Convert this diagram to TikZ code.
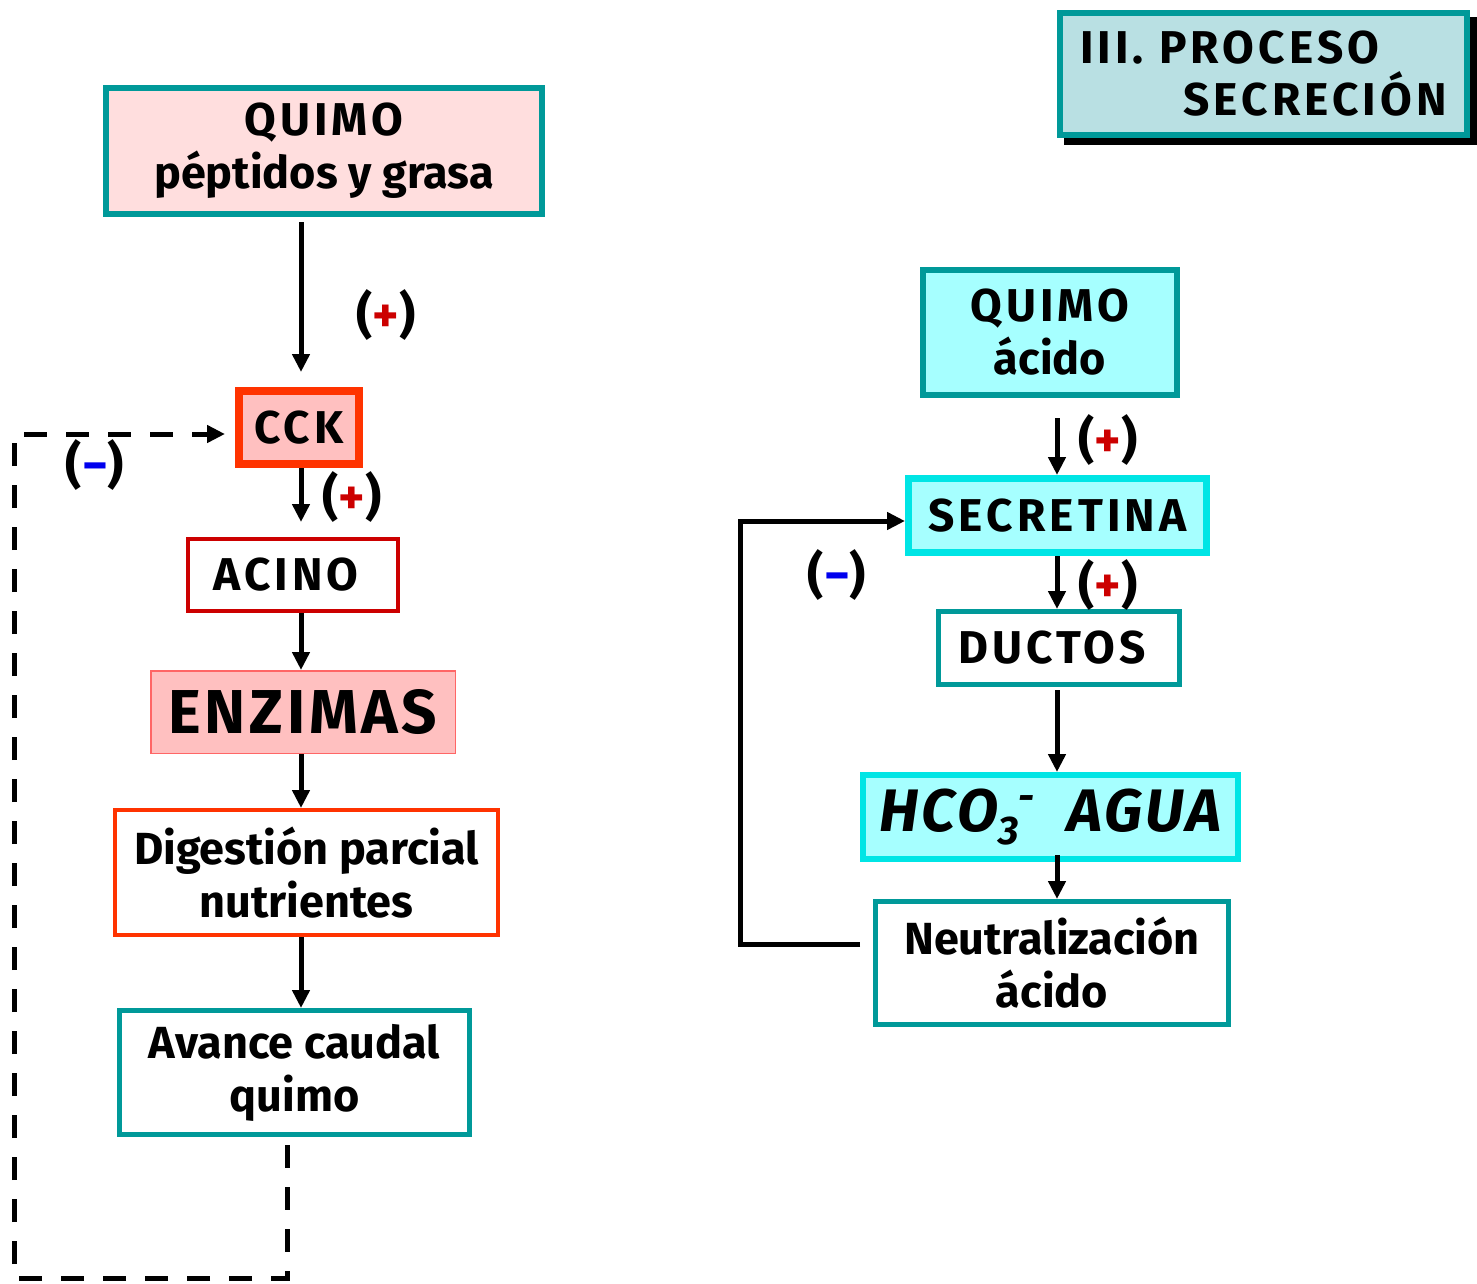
\documentclass[tikz,border=0pt]{standalone}
\usepackage{fontspec}
\setmainfont{Fira Sans}
\usetikzlibrary{arrows.meta}
\definecolor{teal}{HTML}{009999}
\definecolor{pinkA}{HTML}{FFDEDE}
\definecolor{pinkB}{HTML}{FFC0C0}
\definecolor{salmon}{HTML}{FF6666}
\definecolor{flame}{HTML}{FF3300}
\definecolor{crimson}{HTML}{CC0000}
\definecolor{aqua}{HTML}{A6FFFF}
\definecolor{cyanedge}{HTML}{00E5E5}
\definecolor{titlefill}{HTML}{B9E0E3}
\definecolor{plusred}{HTML}{CC0000}
\definecolor{minusblue}{HTML}{0000EE}
\newcommand{\plusmark}{(\textcolor{plusred}{+})}
\newcommand{\minusmark}{(\textcolor{minusblue}{−})}
\newcommand{\caps}{\addfontfeature{LetterSpace=9}}
\tikzset{
  box/.style={rectangle, inner sep=0pt, align=center, font=\fontsize{45}{53}\selectfont\bfseries},
  capsbox/.style={box, font=\fontsize{46}{53}\selectfont\bfseries\caps},
  arr/.style={line width=5pt, -{Triangle[width=17pt,length=18pt]}},
  dasharr/.style={line width=5pt, dash pattern=on 23pt off 19pt, -{Triangle[width=17pt,length=18pt]}},
  sign/.style={inner sep=0pt, font=\fontsize{50}{56}\selectfont\bfseries}
}
\begin{document}
\begin{tikzpicture}[x=1pt,y=-1pt]
\useasboundingbox (0,0) rectangle (1477,1283);

% title box with drop shadow
\fill[black] (1064,17) rectangle (1477,145);
\node[box, draw=teal, fill=titlefill, line width=6pt, minimum width=407pt, minimum height=122pt,
      text width=367pt, align=left, font=\fontsize{46}{52}\selectfont\bfseries\caps] (title) at (1263.5,74)
  {III. PROCESO\\\hspace*{\fill}SECRECIÓN};

% left chain: CCK
\node[box, draw=teal, fill=pinkA, line width=6pt, minimum width=436pt, minimum height=126pt] (quimoA) at (324,151) {{\fontsize{46}{53}\selectfont\caps QUIMO}\\péptidos y grasa};
\node[capsbox, draw=flame, fill=pinkB, line width=8pt, minimum width=120pt, minimum height=73pt] (cck) at (299,427.5) {CCK};
\node[capsbox, draw=crimson, fill=white, line width=4pt, minimum width=210pt, minimum height=72pt] (acino) at (293,575) {ACINO\hspace*{14pt}};
\node[box, draw=salmon, fill=pinkB, line width=1.5pt, minimum width=304.5pt, minimum height=82.5pt,
      font=\fontsize{62}{70}\selectfont\bfseries\addfontfeature{LetterSpace=6}] (enzimas) at (303,712) {ENZIMAS};
\node[box, draw=flame, fill=white, line width=4pt, minimum width=383pt, minimum height=125pt] (digest) at (306.5,872.5) {Digestión parcial\\nutrientes};
\node[box, draw=teal, fill=white, line width=5pt, minimum width=350pt, minimum height=124pt] (avance) at (294.5,1072.5) {Avance caudal\\quimo};

\coordinate (lx) at (301,0);
\draw[arr] ([yshift=-5pt]quimoA.south -| lx) -- ([yshift=15pt]cck.north -| lx);
\draw[arr] (cck.south -| lx) -- ([yshift=15pt]acino.north -| lx);
\draw[arr] (acino.south -| lx) -- (enzimas.north -| lx);
\draw[arr] (enzimas.south -| lx) -- (digest.north -| lx);
\draw[arr] (digest.south -| lx) -- (avance.north -| lx);

\node[sign] (s1) at (386,315) {\plusmark};
\node[sign] (s2) at (352,497) {\plusmark};
\node[sign] (s3) at (95,465) {\minusmark};

% inhibitory feedback loop
\coordinate (fbA) at (287,1145);
\coordinate (fbB) at (14,1278);
\coordinate (fbT) at (225,434);
\draw[dasharr] (fbA) -- (fbA |- fbB) -- (fbB) -- (fbB |- fbT) -- (fbT);

% right chain: secretin
\node[box, draw=teal, fill=aqua, line width=6pt, minimum width=254pt, minimum height=125pt] (quimoB) at (1050,332.5) {{\fontsize{46}{53}\selectfont\caps QUIMO}\\ácido};
\node[capsbox, draw=cyanedge, fill=aqua, line width=7pt, minimum width=298pt, minimum height=74pt] (secretina) at (1057.5,515.5) {SECRETINA};
\node[capsbox, draw=teal, fill=white, line width=5pt, minimum width=241pt, minimum height=73pt] (ductos) at (1059,648) {DUCTOS\hspace*{14pt}};
\node[box, draw=cyanedge, fill=aqua, line width=6pt, minimum width=375pt, minimum height=84pt,
      font=\fontsize{60}{70}\selectfont\bfseries\itshape\addfontfeature{LetterSpace=5}] (hco) at (1050.5,817)
  {HCO\raisebox{-0.22em}{\fontsize{40}{40}\selectfont 3}\raisebox{0.35em}{\fontsize{40}{40}\selectfont -}\ \ AGUA};
\node[box, draw=teal, fill=white, line width=5pt, minimum width=353pt, minimum height=123pt] (neutral) at (1052,963) {Neutralización\\ácido};

\coordinate (rx) at (1057,0);
\draw[arr] ([yshift=-20pt]quimoB.south -| rx) -- (secretina.north -| rx);
\draw[arr] (secretina.south -| rx) -- (ductos.north -| rx);
\draw[arr] ([yshift=-3pt]ductos.south -| rx) -- (hco.north -| rx);
\draw[arr] ([yshift=7pt]hco.south -| rx) -- (neutral.north -| rx);

\node[sign] (s4) at (1108,440) {\plusmark};
\node[sign] (s5) at (1108,585) {\plusmark};
\node[sign] (s6) at (837,575) {\minusmark};

% neutralisation feedback to secretin
\coordinate (fbC) at (740,944);
\coordinate (fbD) at (860,944);
\coordinate (fbE) at (905,521);
\draw[arr] (fbD) -- (fbC) -- (fbC |- fbE) -- (fbE);
\end{tikzpicture}
\end{document}
